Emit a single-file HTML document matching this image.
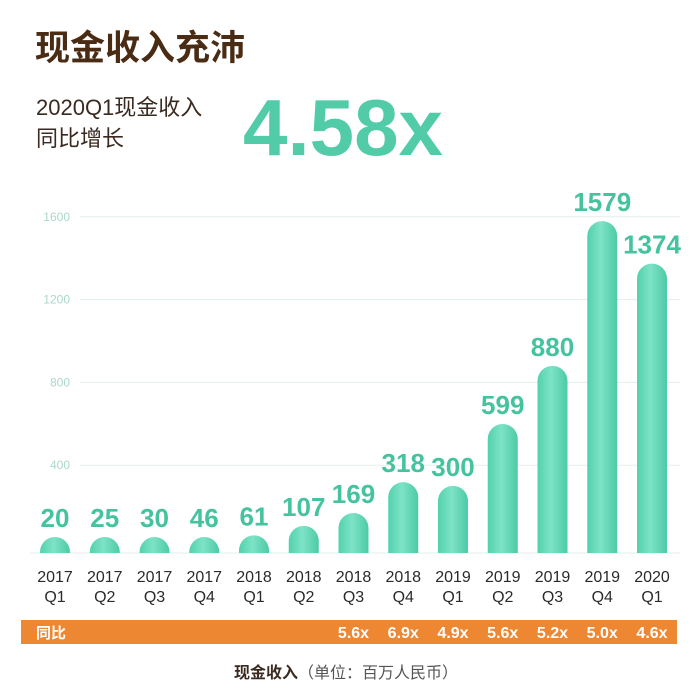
<!DOCTYPE html>
<html><head><meta charset="utf-8"><style>
html,body{margin:0;padding:0;background:#fff;}
svg{display:block;font-family:"Liberation Sans","Noto Sans CJK SC",sans-serif;}
</style></head><body>
<svg width="692" height="695" viewBox="0 0 692 695">
<defs>
<linearGradient id="bg" x1="0" x2="1" y1="0" y2="0">
<stop offset="0" stop-color="#52d1ad"/><stop offset="0.45" stop-color="#7ee3c6"/><stop offset="1" stop-color="#4ccaa6"/>
</linearGradient>
</defs>
<text x="35" y="60" font-size="35" font-weight="bold" fill="#4a2c14" font-family="Noto Sans CJK SC, sans-serif">现金收入充沛</text>
<text x="36" y="115" font-size="22" fill="#3a2a20" font-family="Liberation Sans, Noto Sans CJK SC, sans-serif">2020Q1现金收入</text>
<text x="36" y="146" font-size="22" fill="#3a2a20" font-family="Noto Sans CJK SC, sans-serif">同比增长</text>
<text x="243" y="155" font-size="80" font-weight="bold" fill="#52cca8" textLength="200" lengthAdjust="spacingAndGlyphs">4.58x</text>
<g id="grid"></g>
<g id="bars"></g>
<rect x="21" y="620" width="656" height="24" fill="#ee8731"/>
<text x="36" y="638" font-size="15" font-weight="bold" fill="#fff" font-family="Noto Sans CJK SC, sans-serif">同比</text>
<g id="yoy"></g>
<text x="346" y="678" text-anchor="middle" font-size="16" fill="#333" font-family="Noto Sans CJK SC, sans-serif"><tspan font-weight="bold" fill="#3a2a20">现金收入</tspan><tspan fill="#555">（单位：百万人民币）</tspan></text>
</svg>
<script>
const categoriesYear = ["2017","2017","2017","2017","2018","2018","2018","2018","2019","2019","2019","2019","2020"];
const categoriesQuarter = ["Q1","Q2","Q3","Q4","Q1","Q2","Q3","Q4","Q1","Q2","Q3","Q4","Q1"];
const values = [20,25,30,46,61,107,169,318,300,599,880,1579,1374];
const yoyLabels = ["","","","","","","5.6x","6.9x","4.9x","5.6x","5.2x","5.0x","4.6x"];
const yTicks = [400,800,1200,1600];

const NS = "http://www.w3.org/2000/svg";
function y(v){ return 548 - v*0.207; }
function xc(i){ return 55 + i*49.75; }
const baseY = 553, bw = 30;

const grid = document.getElementById('grid');
yTicks.forEach(t=>{
  const l = document.createElementNS(NS,'line');
  
  
  l.setAttribute('x1',80); l.setAttribute('x2',680);
  l.setAttribute('y1',y(t)); l.setAttribute('y2',y(t));
  l.setAttribute('stroke','#e3efec'); l.setAttribute('stroke-width','1');
  grid.appendChild(l);
  const tx = document.createElementNS(NS,'text');
  
  
  tx.setAttribute('x',70); tx.setAttribute('y',y(t)+4);
  tx.setAttribute('text-anchor','end'); tx.setAttribute('font-size','12');
  tx.setAttribute('fill','#a9d8cb');
  tx.textContent = t;
  grid.appendChild(tx);
});
const bl = document.createElementNS(NS,'line');


bl.setAttribute('x1',30); bl.setAttribute('x2',680); bl.setAttribute('y1',baseY); bl.setAttribute('y2',baseY);
bl.setAttribute('stroke','#e3efec');
grid.appendChild(bl);

const bars = document.getElementById('bars');
values.forEach((v,i)=>{
  const top = Math.min(y(v), baseY-16);
  const x = xc(i)-bw/2, r = bw/2;
  const p = document.createElementNS(NS,'path');
  
  
  p.setAttribute('d',`M${x},${baseY} L${x},${top+r} A${r},${r} 0 0 1 ${x+bw},${top+r} L${x+bw},${baseY} Z`);
  p.setAttribute('fill','url(#bg)');
  bars.appendChild(p);
  const lab = document.createElementNS(NS,'text');
  
  
  lab.setAttribute('x',xc(i)); lab.setAttribute('y',top-10);
  lab.setAttribute('text-anchor','middle'); lab.setAttribute('font-size','26');
  lab.setAttribute('font-weight','bold'); lab.setAttribute('fill','#45c39f');
  lab.textContent = v;
  bars.appendChild(lab);
  const c1 = document.createElementNS(NS,'text');
  
  
  c1.setAttribute('x',xc(i)); c1.setAttribute('y',582);
  c1.setAttribute('text-anchor','middle'); c1.setAttribute('font-size','16'); c1.setAttribute('fill','#2a2a2a');
  c1.textContent = categoriesYear[i];
  bars.appendChild(c1);
  const c2 = document.createElementNS(NS,'text');
  
  
  c2.setAttribute('x',xc(i)); c2.setAttribute('y',602);
  c2.setAttribute('text-anchor','middle'); c2.setAttribute('font-size','16'); c2.setAttribute('fill','#2a2a2a');
  c2.textContent = categoriesQuarter[i];
  bars.appendChild(c2);
});

const yoy = document.getElementById('yoy');
yoyLabels.forEach((s,i)=>{
  if(!s) return;
  const t = document.createElementNS(NS,'text');
  
  
  t.setAttribute('x',xc(i)); t.setAttribute('y',638);
  t.setAttribute('text-anchor','middle'); t.setAttribute('font-size','16');
  t.setAttribute('font-weight','bold'); t.setAttribute('fill','#fff');
  t.textContent = s;
  yoy.appendChild(t);
});
</script>
</body></html>
